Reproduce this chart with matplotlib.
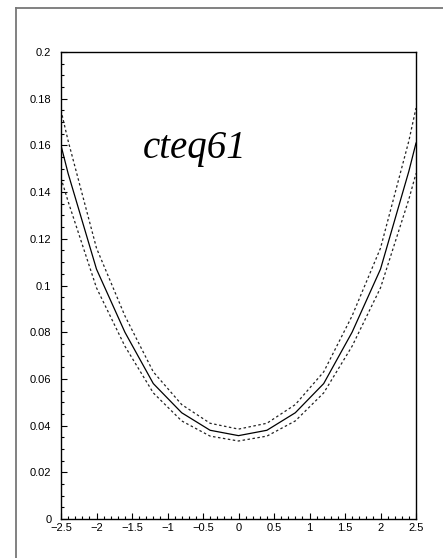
import numpy as np
import matplotlib
matplotlib.use("Agg")
import matplotlib.pyplot as plt
from matplotlib.lines import Line2D
from matplotlib.ticker import MultipleLocator

# ---------------- data ----------------
x_pts = [-2.5, -2.4, -2.0, -1.6, -1.2, -0.8, -0.4, 0.0, 0.4, 0.8, 1.2, 1.6, 2.0, 2.4, 2.5]
central = [0.160, 0.148, 0.107, 0.080, 0.058, 0.0455, 0.038, 0.0357,
           0.038, 0.0455, 0.058, 0.080, 0.107, 0.149, 0.161]
upper = [0.175, 0.162, 0.116, 0.087, 0.063, 0.049, 0.041, 0.0385,
         0.041, 0.049, 0.063, 0.087, 0.116, 0.162, 0.176]
lower = [0.146, 0.136, 0.099, 0.074, 0.054, 0.042, 0.0355, 0.0334,
         0.0355, 0.042, 0.054, 0.074, 0.099, 0.137, 0.148]

LABEL = "cteq61"

plt.rcParams["font.family"] = ["Liberation Sans", "DejaVu Sans"]

W, H = 443, 558
fig = plt.figure(figsize=(W / 100, H / 100), dpi=100)
ax = fig.add_axes([61 / W, 1 - 519 / H, (416 - 61) / W, (519 - 52) / H])

ax.plot(x_pts, central, color="black", lw=0.9, solid_joinstyle="miter")
ax.plot(x_pts, upper, color="#222222", lw=0.9, linestyle=(0, (2, 2)))
ax.plot(x_pts, lower, color="#222222", lw=0.9, linestyle=(0, (2, 2)))

ax.set_xlim(-2.5, 2.5)
ax.set_ylim(0, 0.2)

ax.xaxis.set_major_locator(MultipleLocator(0.5))
ax.xaxis.set_minor_locator(MultipleLocator(0.1))
ax.yaxis.set_major_locator(MultipleLocator(0.02))
ax.yaxis.set_minor_locator(MultipleLocator(0.005))

ax.tick_params(which="both", direction="in", top=False, right=False,
               labelsize=8, width=0.8)
ax.tick_params(which="major", length=4.5)
ax.tick_params(which="minor", length=2.3)
ax.tick_params(axis="y", pad=7)
ax.tick_params(axis="x", pad=3)

ax.xaxis.set_major_formatter(plt.FuncFormatter(
    lambda v, p: ("%g" % v).replace("-", "\u2212")))
ax.yaxis.set_major_formatter(plt.FuncFormatter(lambda v, p: "%g" % round(v, 3)))

for s in ax.spines.values():
    s.set_linewidth(1.0)

ax.text(-1.35, 0.1545, LABEL, family="Liberation Serif", style="italic",
        fontsize=28, va="baseline", ha="left")

# outer gray frame (left and top edges)
to_fig = lambda px, py: (px / W, 1 - py / H)
fx0, fy0 = to_fig(16, 7.5)
fig.add_artist(Line2D([fx0, fx0], [0, fy0], color="#777777", lw=1.3,
                      transform=fig.transFigure))
fig.add_artist(Line2D([fx0, 1], [fy0, fy0], color="#777777", lw=1.3,
                      transform=fig.transFigure))

fig.savefig("out.png", dpi=100)
